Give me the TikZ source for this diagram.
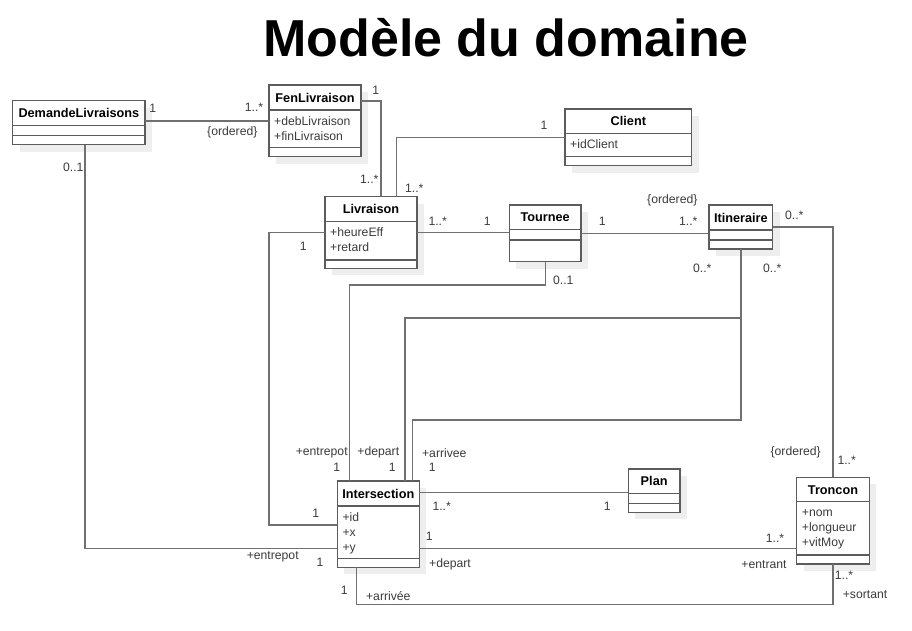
\documentclass[tikz,border=0pt]{standalone}
\usepackage{fontspec}
\setmainfont{Liberation Sans}
\usepackage{tikz}
\usetikzlibrary{positioning}

\definecolor{linegray}{RGB}{112,112,112}
\definecolor{boxgray}{RGB}{92,92,92}
\definecolor{shadowgray}{RGB}{238,238,238}
\definecolor{labelgray}{RGB}{60,60,60}

\tikzset{
  classbox/.style={draw=boxgray,fill=white,line width=1.3pt,inner sep=0pt,outer sep=0pt,anchor=north west},
  classline/.style={draw=boxgray,line width=1.3pt},
  classshadow/.style={fill=shadowgray},
  classname/.style={anchor=base,inner sep=0pt,font=\fontsize{12.7pt}{14pt}\selectfont\bfseries},
  attrtext/.style={anchor=base west,inner sep=0pt,text=labelgray,font=\fontsize{12.2pt}{14pt}\selectfont},
  mult/.style={inner sep=0pt,text=labelgray,font=\fontsize{12.2pt}{14pt}\selectfont},
  assoc/.style={draw=linegray,line width=1.3pt}
}

% one UML class: name, x, y, width, header, attributes, operations, title, attribute list
\newcommand{\umlclass}[9]{%
  \fill[classshadow] ({#2+7},{#3+7}) rectangle ++(#4,{#5+#6+#7});
  \node[classbox,minimum width=#4pt,minimum height={(#5+#6+#7)*1pt}] (#1) at (#2,#3) {};
  \draw[classline] (#2,{#3+#5}) -- ++(#4,0);
  \draw[classline] (#2,{#3+#5+#6}) -- ++(#4,0);
  \node[classname] (#1-name) at ({#2+#4/2},{#3+#5/2+4.5}) {#8};
  \foreach \attr [count=\i] in {#9}
    \node[attrtext] (#1-attr\i) at ({#2+5},{#3+#5+15*\i}) {\attr};
}

\begin{document}
\begin{tikzpicture}[x=1pt,y=-1pt]
  \fill[white] (0,0) rectangle (912,630);
  \useasboundingbox (0,0) rectangle (912,630);

  \node[anchor=base,inner sep=0pt,font=\fontsize{52pt}{60pt}\selectfont\bfseries] (title) at (506,56.7) {Modèle du domaine};

  % classes
  \umlclass{dem}{12.7}{100.7}{132.3}{25}{10}{9}{DemandeLivraisons}{}
  \umlclass{fen}{269}{85}{92}{25}{37.7}{9}{FenLivraison}{+debLivraison,+finLivraison}
  \umlclass{cli}{565}{109}{126.7}{24.3}{23.4}{9}{Client}{+idClient}
  \umlclass{liv}{325}{196.7}{92}{25}{38.3}{8.3}{Livraison}{+heureEff,+retard}
  \umlclass{tou}{509.3}{205}{71.7}{24.3}{10.7}{21.7}{Tournee}{}
  \umlclass{iti}{709}{205}{63.7}{25}{10}{9}{Itineraire}{}
  \umlclass{int}{337.3}{481}{82}{25}{52.3}{9}{Intersection}{+id,+x,+y}
  \umlclass{pla}{628.3}{469}{51.7}{24.3}{10}{9}{Plan}{}
  \umlclass{tro}{796.7}{477.3}{72.6}{24.4}{53.3}{9}{Troncon}{+nom,+longueur,+vitMoy}

  % bends
  \coordinate (dep1) at (405,318);
  \coordinate (arr1) at (412.7,420);
  \coordinate (ent1) at (349.3,285);
  \coordinate (liv1) at (269,525);
  \coordinate (dem1) at (85,548.3);
  \coordinate (tro1) at (0,548.3);
  \coordinate (tro2) at (356.7,604.3);

  % associations
  \draw[assoc] (fen.west) -- (fen.west -| dem.east);
  \draw[assoc] ([yshift=20pt]fen.east) -| ([xshift=10pt]liv.north);
  \draw[assoc] (cli.west) -| ([xshift=25.7pt]liv.north);
  \draw[assoc] (liv.east) -- (liv.east -| tou.west);
  \draw[assoc] (tou.east) -- (tou.east -| iti.west);
  \draw[assoc] (iti.east) -| (tro.north);
  \draw[assoc] (iti.south) |- (dep1) -- (dep1 |- int.north);
  \draw[assoc] (iti.south) |- (arr1) -- (arr1 |- int.north);
  \draw[assoc] (tou.south) |- (ent1) -- (ent1 |- int.north);
  \draw[assoc] (liv.west) -| (liv1) -- (liv1 -| int.west);
  \draw[assoc] (dem1 |- dem.south) -- (dem1) -- (dem1 -| int.west);
  \draw[assoc] ([yshift=-2pt]pla.west) -- ([yshift=-2pt]pla.west -| int.east);
  \draw[assoc] (tro1 -| int.east) -- (tro1 -| tro.west);
  \draw[assoc] (tro2 |- int.south) -- (tro2) -| (tro.south);

  % multiplicities and roles
  \node[mult] (m-dem-fen) at (152.7,108.3) {1};
  \node[mult] (m-fen-dem) at (254,107.3) {1..*};
  \node[mult] (o-dem-fen) at (232.3,132.3) {\{ordered\}};
  \node[mult] (m-fen-liv) at (375.7,90.7) {1};
  \node[mult] (m-liv-fen) at (369.3,179.3) {1..*};
  \node[mult] (m-liv-cli) at (414.3,188.3) {1..*};
  \node[mult] (m-cli-liv) at (544,125) {1};
  \node[mult] (m-dem-int) at (73.3,167.7) {0..1};
  \node[mult] (m-liv-tou) at (437.7,221.7) {1..*};
  \node[mult] (m-tou-liv) at (487.3,221.7) {1};
  \node[mult] (m-tou-iti) at (602.3,221.7) {1};
  \node[mult] (m-iti-tou) at (688.3,221.7) {1..*};
  \node[mult] (o-iti-tou) at (672.3,200.7) {\{ordered\}};
  \node[mult] (m-iti-tro) at (794.3,215.7) {0..*};
  \node[mult] (m-iti-dep) at (702.3,268.3) {0..*};
  \node[mult] (m-iti-arr) at (772.3,268.3) {0..*};
  \node[mult] (m-tou-int) at (563.3,280) {0..1};
  \node[mult] (m-liv-int) at (303.3,246.7) {1};
  \node[mult] (r-entrepot1) at (321.7,452.7) {+entrepot};
  \node[mult] (m-entrepot1) at (336.7,467.7) {1};
  \node[mult] (r-depart1) at (378.3,452.7) {+depart};
  \node[mult] (m-depart1) at (392.3,467.7) {1};
  \node[mult] (r-arrivee1) at (444.3,452.7) {+arrivee};
  \node[mult] (m-arrivee1) at (432.3,467.7) {1};
  \node[mult] (m-int-liv) at (315.7,513.3) {1};
  \node[mult] (m-int-pla) at (441.7,506.7) {1..*};
  \node[mult] (m-pla-int) at (607.3,506.7) {1};
  \node[mult] (m-int-tro1) at (429.3,536) {1};
  \node[mult] (r-depart2) at (450,564) {+depart};
  \node[mult] (r-entrepot2) at (272.7,556.7) {+entrepot};
  \node[mult] (m-int-dem) at (320,562.7) {1};
  \node[mult] (m-int-tro2) at (344.3,590) {1};
  \node[mult] (r-arrivee2) at (388.3,595.7) {+arrivée};
  \node[mult] (o-tro-iti) at (795.7,452.3) {\{ordered\}};
  \node[mult] (m-tro-iti) at (846.7,460) {1..*};
  \node[mult] (m-tro-int1) at (775,538.3) {1..*};
  \node[mult] (r-entrant) at (764,564.3) {+entrant};
  \node[mult] (m-tro-int2) at (844,575) {1..*};
  \node[mult] (r-sortant) at (865,595) {+sortant};
\end{tikzpicture}
\end{document}
